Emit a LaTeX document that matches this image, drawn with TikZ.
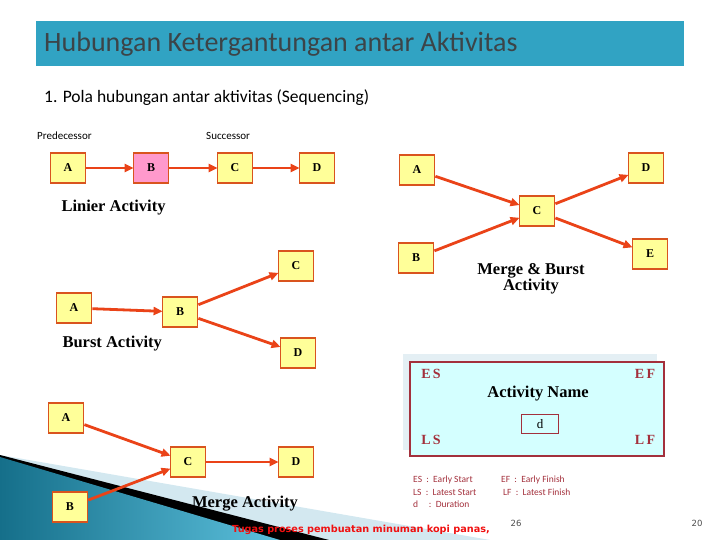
\documentclass[tikz,border=0pt]{standalone}
\usepackage{fontspec}
\setmainfont{Liberation Serif}
\setsansfont{Carlito}
\newfontfamily\tebal{DejaVu Sans}
\usetikzlibrary{arrows.meta,positioning,calc}
\definecolor{biru}{HTML}{31A3C3}
\definecolor{abutua}{HTML}{3C4448}
\definecolor{kuning}{HTML}{FFFF99}
\definecolor{merahmuda}{HTML}{FF99CC}
\definecolor{garis}{HTML}{D9541E}
\definecolor{oranye}{HTML}{EA4318}
\definecolor{merahtua}{HTML}{A3303C}
\definecolor{cyanmuda}{HTML}{D4FFFF}
\definecolor{panel}{HTML}{E4EFF4}
\definecolor{tealgelap}{HTML}{156F8A}
\definecolor{tealterang}{HTML}{5CC0DC}
\definecolor{birupucat}{HTML}{D3E8F0}
\definecolor{merah}{HTML}{F01010}
\newcommand{\ukuran}[1]{\fontsize{#1}{#1}\selectfont}
\tikzset{
  kotak/.style={draw=garis,fill=kuning,line width=1.8pt,minimum width=35pt,minimum height=30pt,inner sep=0pt,font=\bfseries\ukuran{12}},
  kotakpink/.style={kotak,fill=merahmuda},
  panah/.style={-{Triangle[length=9pt,width=8pt]},line width=2.8pt,draw=oranye,shorten >=-1pt},
  namapola/.style={font=\bfseries\ukuran{16.5},align=center},
  waktu/.style={font=\bfseries\ukuran{14},text=merahtua},
  ket/.style={font=\sffamily\ukuran{9.5},text=merahtua,anchor=west,inner sep=0pt},
  kecil/.style={font=\sffamily\ukuran{11},inner sep=0pt},
}
\begin{document}
\begin{tikzpicture}[x=1pt,y=-1pt]
  \useasboundingbox (0,0) rectangle (720,540);
  % hiasan pojok kiri bawah
  \fill[birupucat] (0,455) -- (490,540) -- (0,540) -- cycle;
  \fill[black] (0,455) -- (329,540) -- (0,540) -- cycle;
  \shade[left color=tealgelap,right color=tealterang] (0,457) -- (280,540) -- (0,540) -- cycle;
  % judul
  \node[fill=biru,minimum width=648pt,minimum height=45pt,anchor=north west,inner sep=0pt] (judul) at (36,21) {};
  \node[font=\sffamily\ukuran{28},text=abutua,anchor=west,inner sep=0pt] (teksjudul) at (44,44) {Hubungan Ketergantungan antar Aktivitas};
  \node[font=\sffamily\ukuran{17.5},anchor=west,inner sep=0pt] (subjudul) at (44,98) {1. Pola hubungan antar aktivitas (Sequencing)};
  % linier
  \node[kecil,anchor=west] (pred) at (37,136) {Predecessor};
  \node[kecil,anchor=west] (succ) at (206,136) {Successor};
  \node[kotak] (lA) at (68,168) {A};
  \node[kotakpink] (lB) at (151,168) {B};
  \node[kotak] (lC) at (235,168) {C};
  \node[kotak] (lD) at (317,168) {D};
  \foreach \a/\b in {lA/lB,lB/lC,lC/lD} \draw[panah] (\a) -- (\b);
  \node[namapola,anchor=west] (linier) at (58,208) {Linier Activity};
  % burst
  \node[kotak] (bA) at (74,308) {A};
  \node[kotak] (bB) at (180,312) {B};
  \node[kotak] (bC) at (296,266) {C};
  \node[kotak] (bD) at (298,353) {D};
  \foreach \a/\b in {bA/bB,bB/bC,bB/bD} \draw[panah] (\a) -- (\b);
  \node[namapola,anchor=west] (burst) at (59,344) {Burst Activity};
  % merge & burst
  \node[kotak] (mbA) at (417,170) {A};
  \node[kotak] (mbB) at (416,258) {B};
  \node[kotak] (mbC) at (537,211) {C};
  \node[kotak] (mbD) at (646,168) {D};
  \node[kotak] (mbE) at (650,254) {E};
  \foreach \a/\b in {mbA/mbC,mbB/mbC,mbC/mbD,mbC/mbE} \draw[panah] (\a) -- (\b);
  \node[namapola] (mergeburst) at (531,279) {Merge \& Burst\\Activity};
  % merge
  \node[kotak] (mA) at (66,418) {A};
  \node[kotak] (mB) at (70,507) {B};
  \node[kotak] (mC) at (188,462) {C};
  \node[kotak] (mD) at (296,462) {D};
  \foreach \a/\b in {mA/mC,mB/mC,mC/mD} \draw[panah] (\a) -- (\b);
  \node[namapola] (merge) at (245,504) {Merge Activity};
  % kotak aktivitas
  \fill[panel] (403,354) rectangle (657,450);
  \node[draw=merahtua,fill=cyanmuda,line width=1.5pt,minimum width=254pt,minimum height=94pt,anchor=north west] (aktivitas) at (409,361) {};
  \node[waktu] (ES) at (431,374) {E\,S};
  \node[waktu] (EF) at (645,374) {E\,F};
  \node[waktu] (LS) at (431,440) {L\,S};
  \node[waktu] (LF) at (645,440) {L\,F};
  \node[namapola] (nama) at (538,394) {Activity Name};
  \node[draw=merahtua,line width=1.5pt,minimum width=37pt,minimum height=19pt,inner sep=0pt,font=\ukuran{13}] (durasi) at (540,424) {d};
  % keterangan
  \node[ket] (k1) at (413,480) {ES\ \ :\ \ Early Start};
  \node[ket] (k2) at (413,492) {LS\ \ :\ \ Latest Start};
  \node[ket] (k3) at (413,504) {d\ \ \ \ \ :\ \ Duration};
  \node[ket] (k4) at (501,480) {EF\ \ :\ \ Early Finish};
  \node[ket] (k5) at (503,492) {LF\ \ :\ \ Latest Finish};
  \node[font=\tebal\bfseries\ukuran{9.7},text=merah,anchor=west,inner sep=0pt] (tugas) at (232,530) {Tugas proses pembuatan minuman kopi panas,};
  \node[font=\tebal\ukuran{8.5},text=black!70,inner sep=0pt] (hal1) at (516,523) {26};
  \node[font=\tebal\ukuran{8.5},text=black!70,inner sep=0pt] (hal2) at (697,523) {20};
\end{tikzpicture}
\end{document}
